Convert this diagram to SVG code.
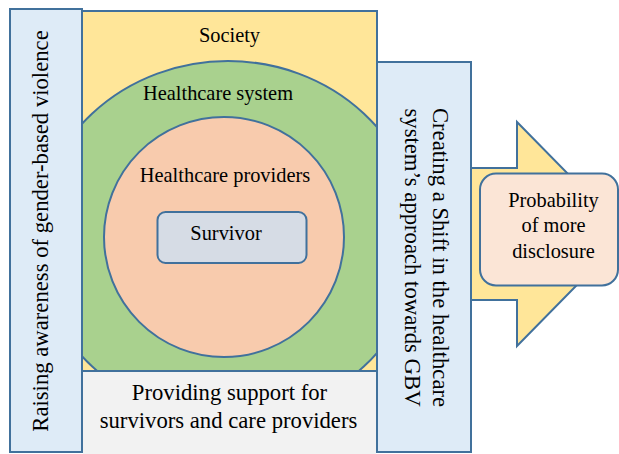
<svg xmlns="http://www.w3.org/2000/svg" width="619" height="454" viewBox="0 0 619 454">
  <style>
    .edge { stroke: #41719C; stroke-width: 2; }
    .lbl { font-family: "Liberation Serif", "Times New Roman", serif; fill: #000; text-anchor: middle; }
    .big { font-size: 22.7px; }
    .mid { font-size: 20.4px; }
  </style>
  <defs>
    <clipPath id="societyClip">
      <rect x="82" y="11" width="295" height="360"/>
    </clipPath>
  </defs>

  <rect width="619" height="454" fill="#FFFFFF"/>

  <!-- block arrow toward the outcome box -->
  <g id="connectors">
    <polygon class="edge" fill="#FFE699" points="471,168 517,168 517,122 627,234 517,346 517,300 471,300"/>
  </g>

  <!-- left vertical banner -->
  <g id="awareness">
    <rect class="edge" x="10" y="9" width="72" height="443" fill="#DEEBF7"/>
    <text class="lbl big" transform="translate(48,231) rotate(-90)">Raising awareness of gender-based violence</text>
  </g>

  <!-- society frame with nested circles -->
  <g id="society">
    <rect x="82" y="11" width="295" height="360" fill="#FFE699"/>
    <text class="lbl mid" x="229.5" y="42">Society</text>
  </g>

  <g id="healthcare-system">
    <ellipse class="edge" clip-path="url(#societyClip)" cx="228" cy="240" rx="192" ry="179" fill="#A9D18E"/>
    <text class="lbl mid" x="218" y="100">Healthcare system</text>
  </g>

  <g id="healthcare-providers">
    <circle class="edge" cx="224" cy="237" r="120" fill="#F8CBAD"/>
    <text class="lbl mid" x="225" y="181.5">Healthcare providers</text>
  </g>

  <g id="survivor">
    <rect class="edge" x="157.5" y="212" width="149" height="51" rx="8" fill="#D6DCE5"/>
    <text class="lbl mid" x="226" y="239.5">Survivor</text>
  </g>

  <!-- society frame outline on top of the clipped ellipse -->
  <rect class="edge" x="82" y="11" width="295" height="360" fill="none"/>

  <!-- support strip -->
  <g id="support">
    <rect x="83" y="372" width="293" height="82" fill="#F2F2F2"/>
    <text class="lbl big" x="229.5" y="400">Providing support for</text>
    <text class="lbl big" x="228.5" y="428">survivors and care providers</text>
  </g>

  <!-- right vertical banner -->
  <g id="shift">
    <rect class="edge" x="377" y="62" width="94" height="390" fill="#DEEBF7"/>
    <text class="lbl big" transform="translate(433,257.5) rotate(90)">Creating a Shift in the healthcare</text>
    <text class="lbl big" transform="translate(405,257.5) rotate(90)">system’s approach towards GBV</text>
  </g>

  <!-- outcome box -->
  <g id="disclosure">
    <rect class="edge" x="480" y="173.5" width="138" height="112" rx="16" fill="#FBE5D6"/>
    <text class="lbl mid" x="553.5" y="206.5">Probability</text>
    <text class="lbl mid" x="553.5" y="232">of more</text>
    <text class="lbl mid" x="553.5" y="257.5">disclosure</text>
  </g>
</svg>
